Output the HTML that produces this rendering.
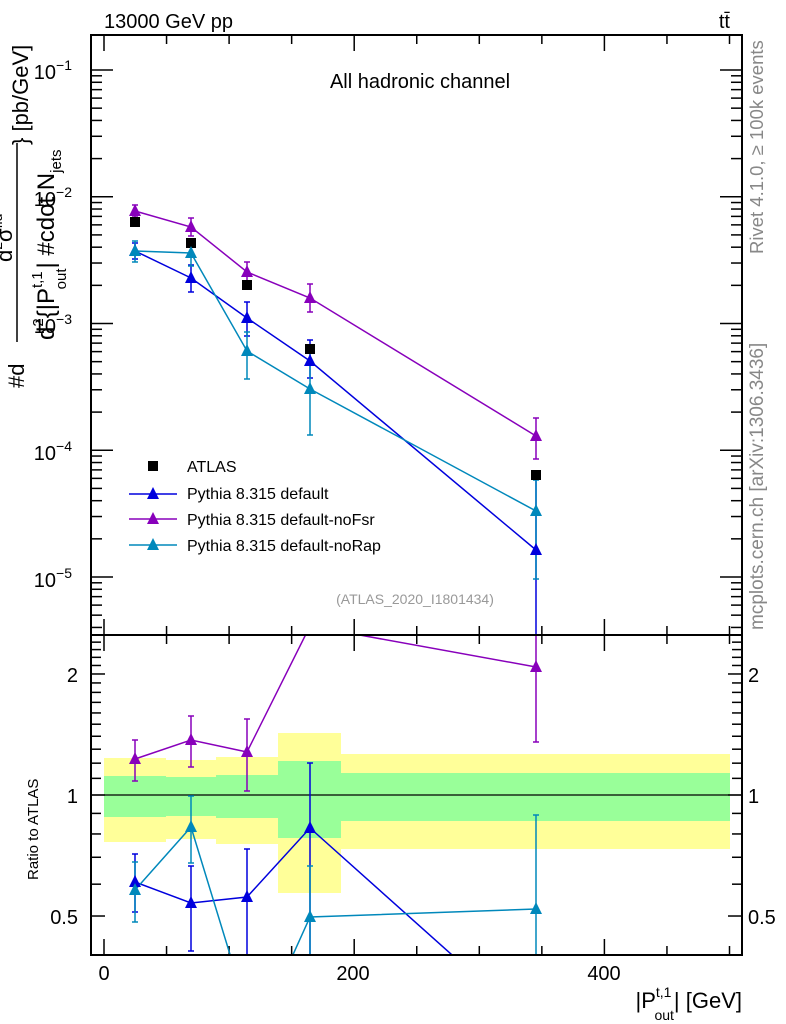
<!DOCTYPE html>
<html><head><meta charset="utf-8"><style>
body{margin:0;background:#fff}
svg{display:block;font-family:"Liberation Sans",sans-serif}
</style></head><body>
<svg id="s" width="786" height="1024" viewBox="0 0 786 1024" xmlns="http://www.w3.org/2000/svg">
<defs>
<clipPath id="cm"><rect x="91" y="35" width="651" height="600"/></clipPath>
<clipPath id="cr"><rect x="91" y="635" width="651" height="320"/></clipPath>
</defs>
<g>
<rect x="104" y="758" width="62" height="84" fill="#ffff99"/>
<rect x="166" y="760" width="50" height="79" fill="#ffff99"/>
<rect x="216" y="757" width="62" height="87" fill="#ffff99"/>
<rect x="278" y="733" width="63" height="160" fill="#ffff99"/>
<rect x="341" y="754" width="389" height="95" fill="#ffff99"/>
<rect x="104" y="776" width="62" height="41" fill="#99ff99"/>
<rect x="166" y="777" width="50" height="39" fill="#99ff99"/>
<rect x="216" y="775" width="62" height="43" fill="#99ff99"/>
<rect x="278" y="761" width="63" height="77" fill="#99ff99"/>
<rect x="341" y="773" width="389" height="48" fill="#99ff99"/>
<line x1="91" y1="795" x2="742" y2="795" stroke="#000" stroke-width="1.2"/>
</g>
<g id="ticks" stroke="#000" stroke-width="1.5"></g>
<g clip-path="url(#cm)" stroke-width="1.5" fill="none">
<g stroke="#8800bb"><polyline points="135,211 191,227 247,272 310,298 536,436"/>
<path d="M135,205V217M191,218V236M247,262V283M310,284V312M536,418V459M132,205h6M132,217h6M188,218h6M188,236h6M244,262h6M244,283h6M307,284h6M307,312h6M533,418h6M533,459h6"/></g>
<g stroke="#0000dd"><polyline points="135,251 191,278 247,318 310,361 536,550"/>
<path d="M135,243V259M191,265V292M247,302V336M310,340V378M536,480V640M132,243h6M132,259h6M188,265h6M188,292h6M244,302h6M244,336h6M307,340h6M307,378h6"/></g>
<g stroke="#0088bb"><polyline points="135,251 191,253 247,351 310,389 536,511"/>
<path d="M135,241V262M191,243V266M247,332V379M310,350V435M536,480V579M132,241h6M132,262h6M188,243h6M188,266h6M244,332h6M244,379h6M307,350h6M307,435h6M533,480h6M533,579h6"/></g>
<g fill="#000" stroke="none">
<rect x="130" y="217" width="10" height="10"/><rect x="186" y="238" width="10" height="10"/><rect x="242" y="280" width="10" height="10"/><rect x="305" y="344" width="10" height="10"/><rect x="531" y="470" width="10" height="10"/></g>
</g>
<g clip-path="url(#cr)" stroke-width="1.5" fill="none">
<g stroke="#8800bb"><polyline points="135,759 191,740 247,752 310,626 536,667"/>
<path d="M135,740V781M191,716V767M247,719V791M536,634V742M132,740h6M132,781h6M188,716h6M188,767h6M244,719h6M244,791h6M533,742h6"/></g>
<g stroke="#0000dd"><polyline points="135,882 191,903 247,897 310,828 536,1030"/>
<path d="M135,854V912M191,866V951M247,849V960M310,763V960M132,854h6M132,912h6M188,866h6M188,951h6M244,849h6M307,763h6"/></g>
<g stroke="#0088bb"><polyline points="135,890 191,827 247,1010"/><polyline points="268,1010 310,917 536,909"/>
<path d="M135,862V922M191,796V863M310,866V960M536,815V960M132,862h6M132,922h6M188,796h6M188,863h6M307,866h6M533,815h6"/></g>
</g>
<g id="tri"></g>
<rect x="91" y="35" width="651" height="600" fill="none" stroke="#000" stroke-width="2"/>
<rect x="91" y="635" width="651" height="320" fill="none" stroke="#000" stroke-width="2"/>
<text x="104" y="28" font-size="20">13000 GeV pp</text>
<text x="730" y="28" font-size="20" text-anchor="end">tt̄</text>
<text x="420" y="88" font-size="20" text-anchor="middle">All hadronic channel</text>
<g font-size="20" text-anchor="end">
<text x="72" y="79">10<tspan dy="-9" font-size="14">−1</tspan></text>
<text x="72" y="206">10<tspan dy="-9" font-size="14">−2</tspan></text>
<text x="72" y="333">10<tspan dy="-9" font-size="14">−3</tspan></text>
<text x="72" y="460">10<tspan dy="-9" font-size="14">−4</tspan></text>
<text x="72" y="587">10<tspan dy="-9" font-size="14">−5</tspan></text>
<text x="78" y="682">2</text><text x="78" y="803">1</text><text x="78" y="924">0.5</text>
</g>
<g font-size="20" text-anchor="start">
<text x="748" y="682">2</text><text x="748" y="803">1</text><text x="748" y="924">0.5</text>
</g>
<g font-size="20" text-anchor="middle">
<text x="104" y="980">0</text><text x="353" y="980">200</text><text x="604" y="980">400</text>
</g>
<text x="742" y="1008" font-size="22" text-anchor="end">|P<tspan dy="-11" font-size="14">t,1</tspan><tspan dx="-17" dy="23" font-size="14">out</tspan><tspan dy="-12">| [GeV]</tspan></text>
<text transform="translate(38,880) rotate(-90)" font-size="15">Ratio to ATLAS</text>
<line x1="17" y1="143" x2="17" y2="342" stroke="#000" stroke-width="1.5"/>
<text transform="translate(24,388) rotate(-90)" font-size="22">#d</text>
<text transform="translate(12,262) rotate(-90)" font-size="22">d<tspan font-size="14" dy="-10">2</tspan><tspan dy="10">σ</tspan><tspan font-size="14" dy="-10">fid</tspan></text>
<text transform="translate(54,340) rotate(-90)" font-size="24">d<tspan font-size="15" dy="-11">2</tspan><tspan dy="11">{|P</tspan><tspan font-size="15" dy="-12">t,1</tspan><tspan font-size="15" dx="-18" dy="24">out</tspan><tspan dy="-12">| #cdot N</tspan><tspan font-size="15" dy="7">jets</tspan></text>
<text transform="translate(28,145) rotate(-90)" font-size="22">} [pb/GeV]</text>
<text transform="translate(763,254) rotate(-90)" font-size="18.5" fill="#888">Rivet 4.1.0, ≥ 100k events</text>
<text transform="translate(763,630) rotate(-90)" font-size="19" fill="#888">mcplots.cern.ch [arXiv:1306.3436]</text>
<text x="415" y="604" font-size="14" fill="#999" text-anchor="middle">(ATLAS_2020_I1801434)</text>
<rect x="148" y="461" width="10" height="10" fill="#000"/>
<g font-size="16">
<text x="187" y="472">ATLAS</text>
<text x="187" y="499">Pythia 8.315 default</text>
<text x="187" y="525">Pythia 8.315 default-noFsr</text>
<text x="187" y="551">Pythia 8.315 default-noRap</text>
</g>
<line x1="129" y1="494" x2="177" y2="494" stroke="#0000dd" stroke-width="1.5"/>
<line x1="129" y1="519" x2="177" y2="519" stroke="#8800bb" stroke-width="1.5"/>
<line x1="129" y1="545" x2="177" y2="545" stroke="#0088bb" stroke-width="1.5"/>
</svg>
<script>
var NS="http://www.w3.org/2000/svg";
function el(p,t,a){var e=document.createElementNS(NS,t);for(var k in a)e.setAttribute(k,a[k]);p.appendChild(e);return e;}
var g=document.getElementById("ticks");
function ln(x1,y1,x2,y2){el(g,"line",{x1:x1,y1:y1,x2:x2,y2:y2});}
for(var v=0;v<=500;v+=50){var x=104+v*1.251;var L=(v%200==0)?16:9;
 ln(x,35,x,35+L);ln(x,635,x,635-L);ln(x,635,x,635+L);ln(x,955,x,955-L);}
for(var d=-6;d<=-1;d++){for(var m=1;m<=9;m++){var y=70-126.75*(d+Math.log10(m)+1);if(y<36||y>634)continue;var L=m==1?22:11;ln(91,y,91+L,y);ln(742,y,742-L,y);}}
var rv=[];for(var r=0.4;r<2.55;r+=0.1)rv.push(Math.round(r*10)/10);
rv.forEach(function(r){var y=795-402*Math.log10(r);if(y<636||y>954)return;var L=(r==0.5||r==1||r==2)?14:10;ln(91,y,91+L,y);ln(742,y,742-L,y);});
var tg=document.getElementById("tri");
var tri=document.createElementNS(NS,"g");tri.setAttribute("clip-path","url(#cm)");tg.appendChild(tri);
var trr=document.createElementNS(NS,"g");trr.setAttribute("clip-path","url(#cr)");tg.appendChild(trr);
function T(p,x,y,c){el(p,"polygon",{points:(x-6)+","+(y+5)+" "+(x+6)+","+(y+5)+" "+x+","+(y-7),fill:c});}
var P="#8800bb",B="#0000dd",C="#0088bb";
[[135,211],[191,227],[247,272],[310,298],[536,436]].forEach(function(a){T(tri,a[0],a[1],P)});
[[135,251],[191,278],[247,318],[310,361],[536,550]].forEach(function(a){T(tri,a[0],a[1],B)});
[[135,251],[191,253],[247,351],[310,389],[536,511]].forEach(function(a){T(tri,a[0],a[1],C)});
[[135,759],[191,740],[247,752],[536,667]].forEach(function(a){T(trr,a[0],a[1],P)});
[[135,882],[191,903],[247,897],[310,828]].forEach(function(a){T(trr,a[0],a[1],B)});
[[135,890],[191,827],[310,917],[536,909]].forEach(function(a){T(trr,a[0],a[1],C)});
T(document.getElementById("s"),153,494,B);T(document.getElementById("s"),153,519,P);T(document.getElementById("s"),153,545,C);
</script>
</body></html>
